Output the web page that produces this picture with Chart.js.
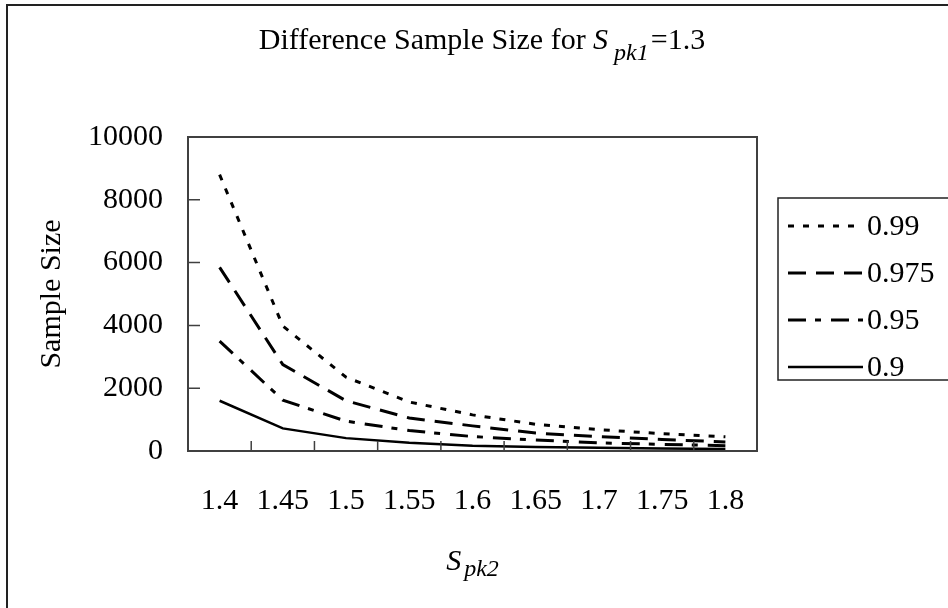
<!DOCTYPE html>
<html>
<head>
<meta charset="utf-8">
<script src="https://cdn.jsdelivr.net/npm/chart.js@4.4.1/dist/chart.umd.min.js"></script>
<style>
    html, body { margin: 0; padding: 0; background: #fff; }
    #chart { display: block; }
</style>
</head>
<body>
<canvas id="chart" width="948" height="608"></canvas>
<script>
// Data
const spk2Values = ["1.4", "1.45", "1.5", "1.55", "1.6", "1.65", "1.7", "1.75", "1.8"];
const size099 = [8800, 3980, 2350, 1560, 1150, 850, 680, 550, 450];
const size0975 = [5850, 2750, 1600, 1050, 800, 570, 460, 365, 290];
const size095 = [3500, 1620, 950, 650, 460, 350, 260, 210, 170];
const size090 = [1600, 720, 410, 260, 170, 125, 100, 80, 65];
const seriesLabels = ["0.99", "0.975", "0.95", "0.9"];

// Text
const titleText = "Difference Sample Size for ";
const titleSymbol = "S";
const titleSub = "pk1";
const titleTail = "=1.3";
const xTitleSymbol = "S";
const xTitleSub = "pk2";
const yTitleText = "Sample Size";

// Style
const serif = "'Liberation Serif', 'Times New Roman', serif";
const frameColor = "#404040";

Chart.defaults.font.family = serif;
Chart.defaults.font.size = 30;
Chart.defaults.color = "#000";

// Plugin: frame, inward ticks, titles with subscripts, boxed legend, outer border
const decorations = {
    id: "decorations",
    beforeDraw(chart) {
        const ctx = chart.ctx;
        ctx.save();
        ctx.fillStyle = "#fff";
        ctx.fillRect(0, 0, chart.width, chart.height);
        ctx.restore();
    },
    afterDraw(chart) {
        const {ctx, chartArea: a, scales: {x, y}} = chart;
        ctx.save();

        // plot frame
        ctx.strokeStyle = frameColor;
        ctx.lineWidth = 2;
        ctx.strokeRect(a.left, a.top, a.right - a.left, a.bottom - a.top);

        // tick marks pointing into the plot
        ctx.lineWidth = 1.5;
        ctx.beginPath();
        for (let i = 1; i < x.ticks.length; i++) {
            const px = (x.getPixelForTick(i - 1) + x.getPixelForTick(i)) / 2;
            ctx.moveTo(px, a.bottom);
            ctx.lineTo(px, a.bottom - 10);
        }
        y.ticks.forEach((t, i) => {
            const py = y.getPixelForTick(i);
            ctx.moveTo(a.left, py);
            ctx.lineTo(a.left + 12, py);
        });
        ctx.stroke();

        // chart title
        ctx.fillStyle = "#000";
        ctx.textBaseline = "alphabetic";
        ctx.textAlign = "left";
        const big = "30px " + serif;
        const bigItalic = "italic 30px " + serif;
        const smallItalic = "italic 24px " + serif;
        ctx.font = big;
        const w1 = ctx.measureText(titleText).width;
        const w4 = ctx.measureText(titleTail).width;
        ctx.font = bigItalic;
        const w2 = ctx.measureText(titleSymbol).width;
        ctx.font = smallItalic;
        const w3 = ctx.measureText(titleSub).width;
        let cx = 482 - (w1 + w2 + 6 + w3 + 2 + w4) / 2;
        const tb = 49;
        ctx.font = big;
        ctx.fillText(titleText, cx, tb);
        cx += w1;
        ctx.font = bigItalic;
        ctx.fillText(titleSymbol, cx, tb);
        cx += w2 + 6;
        ctx.font = smallItalic;
        ctx.fillText(titleSub, cx, tb + 11);
        cx += w3 + 2;
        ctx.font = big;
        ctx.fillText(titleTail, cx, tb);

        // x axis title
        ctx.font = bigItalic;
        const xs = ctx.measureText(xTitleSymbol).width;
        ctx.font = smallItalic;
        const xsub = ctx.measureText(xTitleSub).width;
        let xx = (a.left + a.right) / 2 - (xs + 3 + xsub) / 2;
        const xb = 570;
        ctx.font = bigItalic;
        ctx.fillText(xTitleSymbol, xx, xb);
        ctx.font = smallItalic;
        ctx.fillText(xTitleSub, xx + xs + 3, xb + 6);

        // legend box
        const lg = {left: 778, top: 198, bottom: 380, lineX: 788, lineW: 75, textX: 867, firstY: 226, step: 47};
        ctx.strokeStyle = "#222";
        ctx.lineWidth = 1.5;
        ctx.strokeRect(lg.left, lg.top, chart.width + 10 - lg.left, lg.bottom - lg.top);
        ctx.font = big;
        ctx.textBaseline = "middle";
        chart.data.datasets.forEach((ds, i) => {
            const ly = lg.firstY + i * lg.step;
            ctx.strokeStyle = ds.borderColor;
            ctx.lineWidth = ds.borderWidth;
            ctx.setLineDash(ds.borderDash || []);
            ctx.beginPath();
            ctx.moveTo(lg.lineX, ly);
            ctx.lineTo(lg.lineX + lg.lineW, ly);
            ctx.stroke();
            ctx.setLineDash([]);
            ctx.fillText(ds.label, lg.textX, ly + 1);
        });

        // outer border
        ctx.strokeStyle = "#222";
        ctx.lineWidth = 2;
        ctx.beginPath();
        ctx.moveTo(7, chart.height + 2);
        ctx.lineTo(7, 5);
        ctx.lineTo(chart.width + 2, 5);
        ctx.stroke();

        ctx.restore();
    }
};

const makeSeries = (label, data, dash, width) => ({
    label: label,
    data: data,
    borderColor: "#000",
    backgroundColor: "#000",
    borderWidth: width,
    borderDash: dash,
    borderCapStyle: "butt",
    tension: 0,
    pointRadius: 0,
    fill: false
});

new Chart(document.getElementById("chart"), {
    type: "line",
    data: {
        labels: spk2Values,
        datasets: [
            makeSeries(seriesLabels[0], size099, [6, 9], 3),
            makeSeries(seriesLabels[1], size0975, [18, 10], 3),
            makeSeries(seriesLabels[2], size095, [18, 9, 6, 10], 3),
            makeSeries(seriesLabels[3], size090, [], 2.5)
        ]
    },
    options: {
        responsive: false,
        devicePixelRatio: 1,
        animation: false,
        layout: {
            padding: {top: 137, right: 191, bottom: 57, left: 27}
        },
        plugins: {
            legend: {display: false},
            title: {display: false},
            tooltip: {enabled: false}
        },
        scales: {
            x: {
                type: "category",
                offset: true,
                grid: {display: false, offset: true, drawTicks: false},
                border: {display: false},
                ticks: {padding: 32, maxRotation: 0, autoSkip: false, font: {size: 30}}
            },
            y: {
                min: 0,
                max: 10000,
                grid: {display: false, drawTicks: false},
                border: {display: false},
                ticks: {
                    stepSize: 2000,
                    padding: 25,
                    font: {size: 30},
                    callback: (value) => String(value)
                },
                title: {
                    display: true,
                    text: yTitleText,
                    font: {size: 30},
                    padding: {top: 7, bottom: -7}
                }
            }
        }
    },
    plugins: [decorations]
});
</script>
</body>
</html>
